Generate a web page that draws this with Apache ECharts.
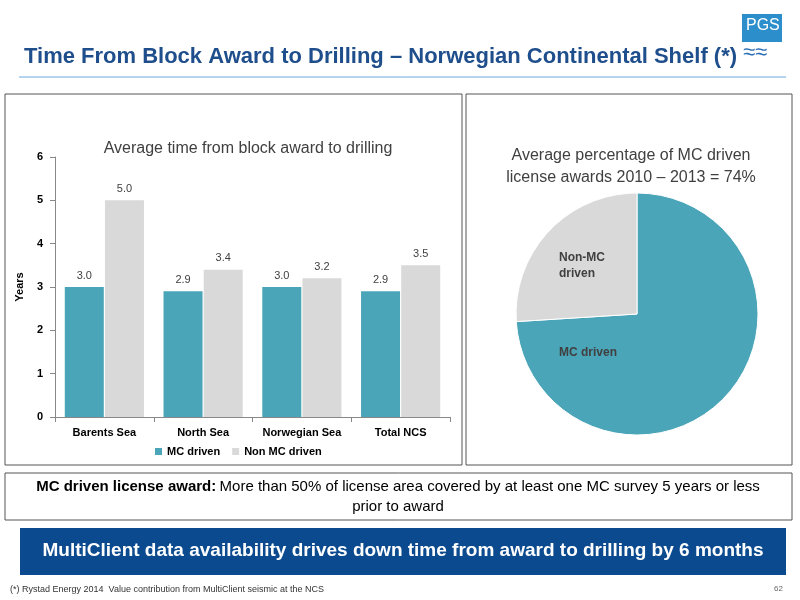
<!DOCTYPE html>
<html><head><meta charset="utf-8">
<script src="https://cdn.jsdelivr.net/npm/echarts@6/dist/echarts.min.js"></script>
<style>html,body{margin:0;padding:0;background:#fff}#main{width:800px;height:600px}</style>
</head><body><div id="main"></div>
<script>
var categories = ['Barents Sea', 'North Sea', 'Norwegian Sea', 'Total NCS'];
var mcDriven = [3.0, 2.9, 3.0, 2.9];
var nonMcDriven = [5.0, 3.4, 3.2, 3.5];
var pieNames = ['MC driven', 'Non-MC driven'];
var pieValues = [74, 26];

var teal = '#4BA5B8', grey = '#D9D9D9';
var myChart = echarts.init(document.getElementById('main'));
var option = {
    animation: false,
    textStyle: { fontFamily: 'Liberation Sans, Arial, sans-serif' },
    title: [
        { text: 'Time From Block Award to Drilling \u2013 Norwegian Continental Shelf (*)', left: 19, top: 41,
          textStyle: { color: '#1F4E8C', fontSize: 22, fontWeight: 'bold' } },
        { text: 'Average time from block award to drilling', left: 243, top: 136, textAlign: 'center',
          textStyle: { color: '#404040', fontSize: 16, fontWeight: 'normal' } },
        { text: 'Average percentage of MC driven\nlicense awards 2010 \u2013 2013 = 74%', left: 626, top: 140, textAlign: 'center',
          textStyle: { color: '#404040', fontSize: 16, fontWeight: 'normal', lineHeight: 22 } }
    ],
    legend: {
        data: ['MC driven', 'Non MC driven'], bottom: 138, left: 150,
        itemWidth: 7, itemHeight: 7, itemGap: 12, icon: 'rect',
        textStyle: { fontSize: 11, fontWeight: 'bold', color: '#000' }
    },
    grid: { left: 55, right: 350, top: 157, bottom: 183 },
    xAxis: {
        type: 'category', data: categories,
        axisTick: { show: true, lineStyle: { color: '#888' } },
        axisLine: { lineStyle: { color: '#888' } },
        axisLabel: { color: '#000', fontSize: 11, fontWeight: 'bold', interval: 0, margin: 10 }
    },
    yAxis: {
        type: 'value', min: 0, max: 6, interval: 1,
        name: 'Years', nameLocation: 'middle', nameGap: 30, nameRotate: 90,
        nameTextStyle: { fontSize: 11, fontWeight: 'bold', color: '#000' },
        splitLine: { show: false },
        axisLine: { show: true, lineStyle: { color: '#888' } },
        axisTick: { show: true, lineStyle: { color: '#888' } },
        axisLabel: { color: '#000', fontSize: 11, fontWeight: 'bold', margin: 12 }
    },
    series: [
        { name: 'MC driven', type: 'bar', data: mcDriven, barWidth: 39, barGap: '3%',
          itemStyle: { color: teal },
          label: { show: true, position: 'top', distance: 6, formatter: function (p) { return p.value.toFixed(1); }, fontSize: 11, color: '#404040' } },
        { name: 'Non MC driven', type: 'bar', data: nonMcDriven, barWidth: 39,
          itemStyle: { color: grey },
          label: { show: true, position: 'top', distance: 6, formatter: function (p) { return p.value.toFixed(1); }, fontSize: 11, color: '#404040' } },
        { name: 'share', type: 'pie', center: [637, 314], radius: 121, startAngle: 90, clockwise: true,
          data: pieNames.map(function (n, i) { return { name: n, value: pieValues[i], itemStyle: { color: i ? grey : teal } }; }),
          itemStyle: { borderColor: '#fff', borderWidth: 1 },
          label: { show: false }, labelLine: { show: false }, emphasis: { disabled: true } }
    ],
    graphic: [
        { type: 'rect', shape: { x: 5, y: 94, width: 457, height: 371 }, style: { fill: 'none', stroke: '#555', lineWidth: 1 } },
        { type: 'rect', shape: { x: 466, y: 94, width: 326, height: 371 }, style: { fill: 'none', stroke: '#555', lineWidth: 1 } },
        { type: 'line', shape: { x1: 19, y1: 77, x2: 786, y2: 77 }, style: { stroke: '#6FA8DC', lineWidth: 1 } },
        { type: 'rect', shape: { x: 742, y: 14, width: 40, height: 28 }, style: { fill: '#2C8FCC' } },
        { type: 'text', left: 746, top: 18, style: { text: 'PGS', fill: '#fff', fontSize: 16 } },
        { type: 'text', left: 743, top: 42, style: { text: '\u2248\u2248', fill: '#2C6FB5', fontSize: 22 } },
        { type: 'text', z: 100, left: 559, top: 250, style: { text: 'Non-MC\ndriven', fill: '#404040', fontSize: 12, fontWeight: 'bold', lineHeight: 16 } },
        { type: 'text', z: 100, left: 559, top: 347, style: { text: 'MC driven', fill: '#404040', fontSize: 12, fontWeight: 'bold' } },
        { type: 'rect', shape: { x: 5, y: 473, width: 787, height: 47 }, style: { fill: '#fff', stroke: '#555', lineWidth: 1 } },
        { type: 'text', x: 398, y: 479, style: { rich: { b: { fontWeight: 'bold', fontSize: 15 }, n: { fontSize: 15 } },
          text: '{b|MC driven license award:} {n|More than 50% of license area covered by at least one MC survey 5 years or less}', fill: '#000', align: 'center' } },
        { type: 'text', x: 398, y: 499, style: { text: 'prior to award', fill: '#000', fontSize: 15, align: 'center' } },
        { type: 'rect', shape: { x: 20, y: 528, width: 766, height: 47 }, style: { fill: '#0B4A8E' } },
        { type: 'text', x: 403, y: 541, style: { text: 'MultiClient data availability drives down time from award to drilling by 6 months', fill: '#fff', fontSize: 19, fontWeight: 'bold', align: 'center' } },
        { type: 'text', left: 10, top: 585, style: { text: '(*) Rystad Energy 2014  Value contribution from MultiClient seismic at the NCS', fill: '#333', fontSize: 9 } },
        { type: 'text', left: 774, top: 585, style: { text: '62', fill: '#666', fontSize: 8 } }
    ]
};
myChart.setOption(option);
</script></body></html>
